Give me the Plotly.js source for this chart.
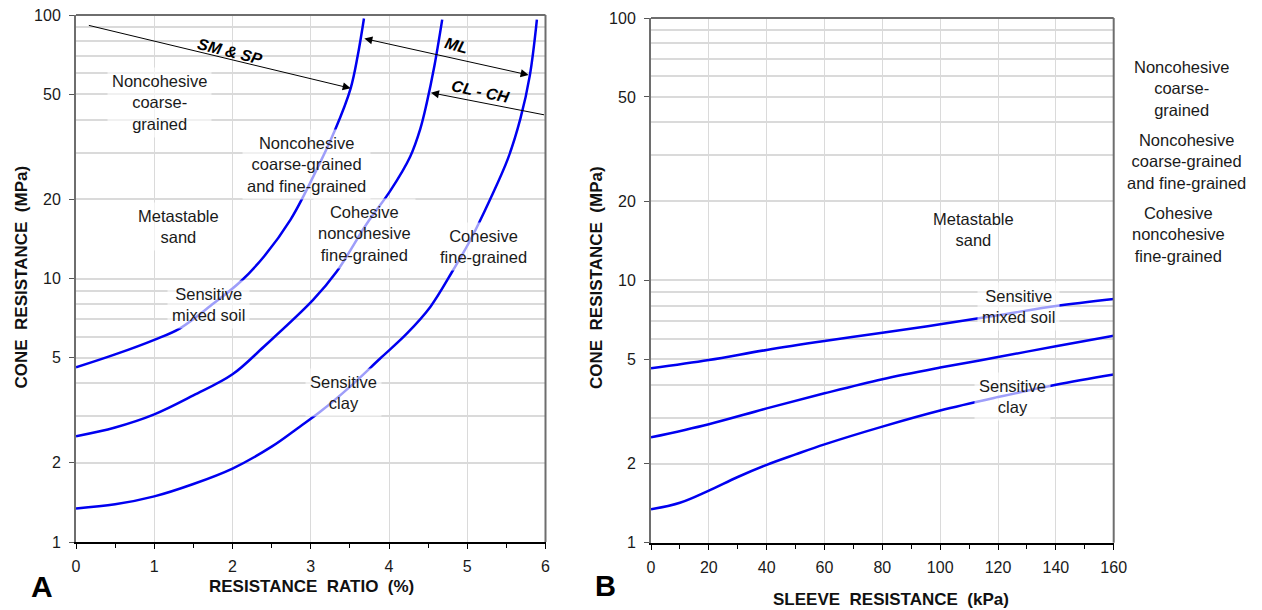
<!DOCTYPE html>
<html>
<head>
<meta charset="utf-8">
<script src="https://cdn.plot.ly/plotly-3.0.1.min.js"></script>
<style>html,body{margin:0;padding:0;background:#fff;}#chart{width:1262px;height:610px;}</style>
</head>
<body>
<div id="chart"></div>
<script>
// ---------- Panel A data: resistance ratio (%) vs cone resistance (MPa) ----------
const a1X = [0, 0.5, 1, 1.33, 1.76, 2.1, 2.4, 2.74, 3.03, 3.31, 3.51, 3.6, 3.68];
const a1Y = [4.6, 5.15, 5.85, 6.47, 8.05, 9.72, 12.1, 16.7, 24.3, 36.6, 52.7, 70, 97];
const a2X = [0, 0.5, 1, 1.5, 2, 2.4, 3.03, 3.33, 3.72, 4.02, 4.27, 4.40, 4.48, 4.58, 4.68];
const a2Y = [2.52, 2.72, 3.05, 3.6, 4.33, 5.51, 8.29, 10.6, 16.2, 21.6, 29.0, 37.0, 46.0, 64, 96];
const a3X = [0, 0.5, 1, 1.5, 2, 2.5, 2.86, 3.12, 3.5, 3.89, 4.23, 4.53, 4.82, 5.04, 5.29, 5.52, 5.68, 5.8, 5.89];
const a3Y = [1.34, 1.39, 1.49, 1.66, 1.9, 2.3, 2.74, 3.12, 3.88, 4.98, 6.19, 7.82, 10.77, 14.0, 19.9, 28.5, 40.5, 59, 96];

// ---------- Panel B data: sleeve resistance (kPa) vs cone resistance (MPa) ----------
const b1X = [0, 20, 40, 60, 80, 100, 120, 140, 160];
const b1Y = [4.62, 4.97, 5.43, 5.87, 6.31, 6.80, 7.36, 7.98, 8.49];
const b2X = [0, 20, 40, 60, 80, 100, 120, 140, 160];
const b2Y = [2.52, 2.83, 3.25, 3.71, 4.20, 4.65, 5.10, 5.61, 6.15];
const b3X = [0, 10, 20, 30, 40, 50, 60, 80, 100, 120, 140, 160];
const b3Y = [1.34, 1.42, 1.58, 1.78, 1.98, 2.17, 2.37, 2.77, 3.19, 3.59, 4.0, 4.38];

// ---------- Tick labels ----------
const yTickVals = [1, 2, 5, 10, 20, 50, 100];
const yTickText = ['1', '2', '5', '10', '20', '50', '100'];
const yMinorVals = [3, 4, 6, 7, 8, 9, 30, 40, 60, 70, 80, 90];
const aTickVals = [0, 1, 2, 3, 4, 5, 6];
const aMinorVals = [0.5, 1.5, 2.5, 3.5, 4.5, 5.5];
const bTickVals = [0, 20, 40, 60, 80, 100, 120, 140, 160];
const bMinorVals = [10, 30, 50, 70, 90, 110, 130, 150];

// ---------- Boundary arrows in panel A (tail -> head) ----------
const smspX = [0.145, 3.51], smspY = [91.6, 52.7];
const mlX = [3.666, 5.784], mlY = [81.6, 59.2];
const clchX = [6.0, 4.536], clchY = [41.7, 50.7];

// ---------- Text ----------
const FONT = 'Liberation Sans, Arial, sans-serif';
const BLUE = '#0000f0';
const TXT = '#1a1a1a';

const lineStyle = {color: BLUE, width: 2.5, shape: 'spline', smoothing: 1.0};
const traces = [
  {x: a1X, y: a1Y, xaxis: 'x', yaxis: 'y'},
  {x: a2X, y: a2Y, xaxis: 'x', yaxis: 'y'},
  {x: a3X, y: a3Y, xaxis: 'x', yaxis: 'y'},
  {x: b1X, y: b1Y, xaxis: 'x2', yaxis: 'y2'},
  {x: b2X, y: b2Y, xaxis: 'x2', yaxis: 'y2'},
  {x: b3X, y: b3Y, xaxis: 'x2', yaxis: 'y2'}
].map(t => Object.assign(t, {type: 'scatter', mode: 'lines', line: lineStyle, hoverinfo: 'skip'}));

const W = 1262, H = 610;
const gridC = '#dadada';
function xAxis(domain, range, tv, mv, anchor) {
  return {
    domain: domain, range: range, anchor: anchor, tickmode: 'array', tickvals: tv,
    ticks: 'outside', ticklen: 5, tickwidth: 1, tickcolor: '#000',
    showgrid: true, gridcolor: gridC, gridwidth: 1, zeroline: false,
    showline: true, linecolor: '#000', linewidth: 2,
    tickfont: {family: FONT, size: 16, color: TXT}, ticklabelstandoff: 4,
    minor: {tickmode: 'array', tickvals: mv, ticks: 'outside', ticklen: 4, tickcolor: '#000', showgrid: false},
    fixedrange: true
  };
}
function yAxis(domain, anchor) {
  return {
    domain: domain, type: 'log', range: [0, 2], anchor: anchor,
    tickmode: 'array', tickvals: yTickVals, ticktext: yTickText,
    ticks: 'outside', ticklen: 5, tickwidth: 1, tickcolor: '#555',
    showgrid: true, gridcolor: gridC, gridwidth: 2, zeroline: false,
    showline: true, linecolor: '#6e6e6e', linewidth: 2,
    tickfont: {family: FONT, size: 16, color: TXT}, ticklabelstandoff: 5,
    minor: {tickmode: 'array', tickvals: yMinorVals, ticks: '', showgrid: true, gridcolor: gridC, gridwidth: 2},
    fixedrange: true
  };
}

const L = Math.log10;
const annotations = [];
const LBL = 16.5;
function label(text, x, y, xref, yref, bg, extra) {
  annotations.push(Object.assign({
    text: text, x: x, y: y, xref: xref, yref: yref, showarrow: false,
    font: {family: FONT, size: LBL, color: TXT}, align: 'center',
    bgcolor: bg ? 'rgba(255,255,255,0.62)' : 'rgba(0,0,0,0)', borderpad: 4,
    xanchor: 'center', yanchor: 'middle'
  }, extra || {}));
}
// Panel A region labels
label('Noncohesive<br>coarse-<br>grained', 1.073, 1.668, 'x', 'y', true);
label('Noncohesive<br>coarse-grained<br>and fine-grained', 2.94, 1.434, 'x', 'y', true);
label('Metastable<br>sand', 1.316, 1.197, 'x', 'y', true);
label('Sensitive<br>mixed soil', 1.687, 0.903, 'x', 'y', true);
label('Cohesive<br>noncohesive<br>fine-grained', 3.683, 1.169, 'x', 'y', true);
label('Cohesive<br>fine-grained', 5.205, 1.123, 'x', 'y', true);
label('Sensitive<br>clay', 3.416, 0.567, 'x', 'y', true);
// Soil group tags on arrows
const tagFont = {family: FONT, size: 16, color: '#000', weight: 'bold', style: 'italic'};
label('SM &amp; SP', 1.968, 1.863, 'x', 'y', false, {textangle: 14, font: tagFont});
label('ML', 4.865, 1.886, 'x', 'y', false, {textangle: 15, font: tagFont});
label('CL - CH', 5.163, 1.708, 'x', 'y', false, {textangle: 12, font: tagFont});
// Panel B region labels
label('Metastable<br>sand', 111.4, 1.192, 'x2', 'y2', false);
label('Sensitive<br>mixed soil', 127.0, 0.901, 'x2', 'y2', true);
label('Sensitive<br>clay', 125.1, 0.558, 'x2', 'y2', true);
// Panel B labels on the right
label('Noncohesive<br>coarse-<br>grained', 1181.7 / W, 1 - 88.3 / H, 'paper', 'paper', false);
label('Noncohesive<br>coarse-grained<br>and fine-grained', 1186.7 / W, 1 - 161.7 / H, 'paper', 'paper', false);
label('Cohesive<br>noncohesive<br>fine-grained', 1178 / W, 1 - 234 / H, 'paper', 'paper', false);

// Axis titles and panel letters
const titleFont = {family: FONT, size: 17, color: '#111', weight: 'bold'};
label('CONE  RESISTANCE  (MPa)', 21 / W, 1 - 277.5 / H, 'paper', 'paper', false, {textangle: -90, font: titleFont});
label('CONE  RESISTANCE  (MPa)', 596 / W, 1 - 278 / H, 'paper', 'paper', false, {textangle: -90, font: titleFont});
label('RESISTANCE  RATIO  (%)', 311 / W, 1 - 586 / H, 'paper', 'paper', false, {font: titleFont});
label('SLEEVE  RESISTANCE  (kPa)', 891 / W, 1 - 599 / H, 'paper', 'paper', false, {font: titleFont});
label('A', 42 / W, 1 - 586 / H, 'paper', 'paper', false, {font: {family: FONT, size: 30, color: '#000', weight: 'bold'}});
label('B', 605 / W, 1 - 586 / H, 'paper', 'paper', false, {font: {family: FONT, size: 29, color: '#000', weight: 'bold'}});

// Arrows
function arrow(xs, ys, both) {
  annotations.push({
    x: xs[1], y: L(ys[1]), ax: xs[0], ay: L(ys[0]), xref: 'x', yref: 'y', axref: 'x', ayref: 'y',
    text: '', showarrow: true, arrowhead: 2, arrowsize: 1.6, arrowwidth: 1, arrowcolor: '#000',
    arrowside: both ? 'end+start' : 'end', startarrowhead: 2, startarrowsize: 1.6, standoff: 0, startstandoff: 0
  });
}
arrow(smspX, smspY, false);
arrow(mlX, mlY, true);
arrow(clchX, clchY, false);

// Top / right plot borders
const shapes = [];
[['x', 'y'], ['x2', 'y2']].forEach(([xa, ya]) => {
  shapes.push({type: 'line', xref: xa + ' domain', yref: ya + ' domain', x0: 0, x1: 1, y0: 1, y1: 1, line: {color: '#6e6e6e', width: 2}});
  shapes.push({type: 'line', xref: xa + ' domain', yref: ya + ' domain', x0: 1, x1: 1, y0: 0, y1: 1, line: {color: '#6e6e6e', width: 2}});
});

const layout = {
  width: W, height: H, margin: {l: 0, r: 0, t: 0, b: 0},
  paper_bgcolor: '#fff', plot_bgcolor: '#fff', showlegend: false, hovermode: false,
  xaxis: xAxis([76 / W, 545.5 / W], [0, 6], aTickVals, aMinorVals, 'y'),
  yaxis: yAxis([(H - 542) / H, (H - 15) / H], 'x'),
  xaxis2: xAxis([651 / W, 1113.7 / W], [0, 160], bTickVals, bMinorVals, 'y2'),
  yaxis2: yAxis([(H - 542.7) / H, (H - 18) / H], 'x2'),
  annotations: annotations, shapes: shapes
};

Plotly.newPlot('chart', traces, layout, {staticPlot: true, displayModeBar: false});
</script>
</body>
</html>
